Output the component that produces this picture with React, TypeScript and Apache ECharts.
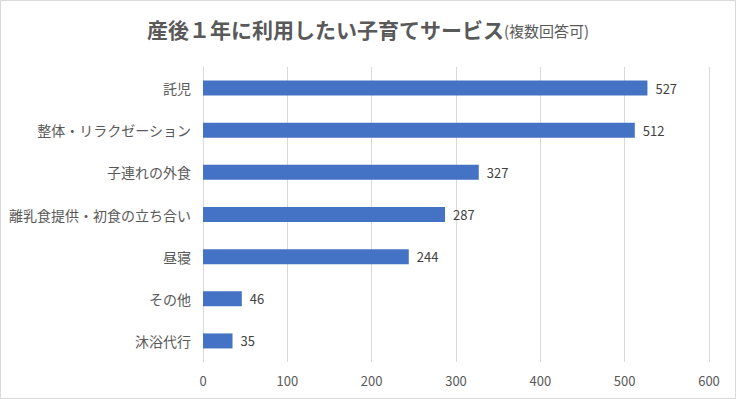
import React, { useEffect, useRef } from "react";
import * as echarts from "echarts";

const categories = [
  "託児",
  "整体・リラクゼーション",
  "子連れの外食",
  "離乳食提供・初食の立ち合い",
  "昼寝",
  "その他",
  "沐浴代行",
];
const values = [527, 512, 327, 287, 244, 46, 35];
const titleMain = "産後１年に利用したい子育てサービス";
const titleSub = "(複数回答可)";

const FONT = "'Noto Sans CJK JP', 'Noto Sans', sans-serif";

export default function App() {
  const ref = useRef<HTMLDivElement>(null);
  useEffect(() => {
    if (!ref.current) return;
    const chart = echarts.init(ref.current, undefined, { renderer: "svg" });
    chart.setOption({
      animation: false,
      backgroundColor: "#ffffff",
      textStyle: { fontFamily: FONT },
      title: {
        left: "center",
        top: 13,
        text: `{a|${titleMain}}{b|${titleSub}}`,
        textStyle: {
          fontWeight: "normal",
          rich: {
            a: { fontSize: 21, fontWeight: "bold", color: "#595959", fontFamily: FONT },
            b: { fontSize: 15, fontWeight: "normal", color: "#595959", fontFamily: FONT, padding: [4, 0, 0, 0] },
          },
        },
      },
      graphic: [
        {
          type: "rect",
          shape: { x: 0.5, y: 0.5, width: 735, height: 398 },
          style: { fill: "none", stroke: "#d9d9d9", lineWidth: 1 },
          silent: true,
        },
      ],
      grid: { left: 203, right: 27, top: 67, bottom: 37, containLabel: false },
      xAxis: {
        type: "value",
        min: 0,
        max: 600,
        interval: 100,
        axisLine: { show: false },
        axisTick: { show: false },
        splitLine: { lineStyle: { color: "#d9d9d9", width: 1 } },
        axisLabel: { color: "#595959", fontSize: 13, margin: 12, fontFamily: FONT },
      },
      yAxis: {
        type: "category",
        data: categories,
        inverse: true,
        axisLine: { show: true, lineStyle: { color: "#d9d9d9" } },
        axisTick: { show: false },
        axisLabel: { color: "#595959", fontSize: 14, margin: 12, fontFamily: FONT },
      },
      series: [
        {
          type: "bar",
          data: values,
          barWidth: 15,
          itemStyle: { color: "#4472C4" },
          label: {
            show: true,
            position: "right",
            distance: 8,
            color: "#404040",
            fontSize: 13,
            fontFamily: FONT,
          },
        },
      ],
    });
    return () => chart.dispose();
  }, []);
  return (
    <div
      ref={ref}
      style={{ position: "fixed", left: 0, top: 0, width: 736, height: 399 }}
    />
  );
}
